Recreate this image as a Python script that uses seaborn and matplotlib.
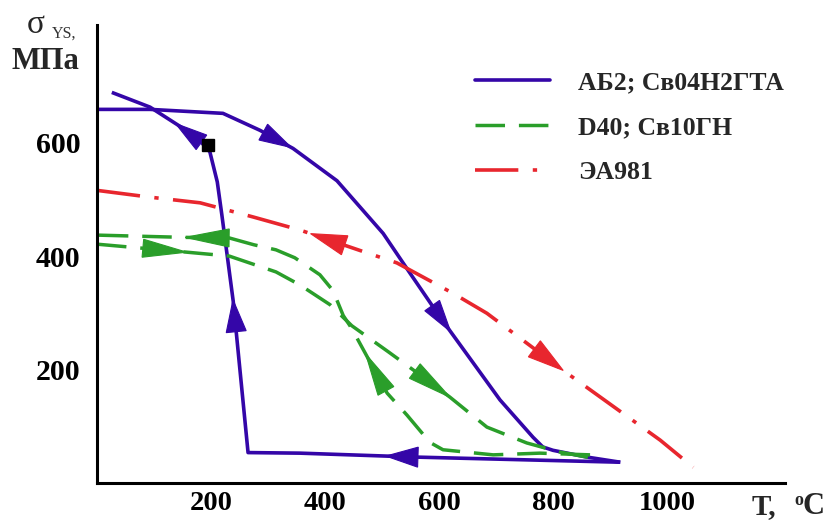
import numpy as np
import pandas as pd
import matplotlib
matplotlib.use("Agg")
import matplotlib.pyplot as plt
import seaborn as sns
from matplotlib.lines import Line2D
from matplotlib.patches import Polygon

# Yield strength vs temperature for three weld / steel combinations
# АБ2; Св04Н2ГТА — heating and cooling branches
ab2_heat_t = [0, 93, 221, 286, 344, 421, 502, 549, 602, 707, 765, 782, 800, 860, 918]
ab2_heat_s = [659, 659, 652, 622, 590, 533, 440, 370, 292, 146, 80, 63, 57, 45, 36]
ab2_cool_t = [918, 561, 356, 265, 239, 219, 211, 198, 175, 93, 26]
ab2_cool_s = [36, 45, 52, 53, 320, 473, 531, 584, 610, 663, 689]

# D40; Св10ГН — heating and cooling branches
d40_heat_t = [0, 56, 156, 232, 314, 356, 409, 447, 511, 567, 619, 684, 754, 812, 865]
d40_heat_s = [421, 416, 407, 400, 372, 349, 314, 277, 231, 190, 151, 98, 70, 54, 44]
d40_cool_t = [865, 777, 695, 607, 584, 544, 509, 479, 447, 432, 414, 391, 347, 314, 275, 232, 153, 0]
d40_cool_s = [49, 52, 49, 58, 71, 119, 158, 213, 272, 295, 339, 367, 397, 411, 420, 432, 433, 437]

# ЭА981 — single curve
ea_t = [0, 93, 181, 274, 356, 461, 526, 625, 684, 818, 988, 1046]
ea_s = [516, 504, 494, 469, 446, 410, 388, 334, 299, 198, 75, 27]

# Marked point on the АБ2 cooling curve
mark_t = [195]
mark_s = [596]

legend_labels = ["АБ2; Св04Н2ГТА", "D40; Св10ГН", "ЭА981"]
x_ticks = [200, 400, 600, 800, 1000]
y_ticks = [200, 400, 600]

BLUE = "#3406a8"
GREEN = "#2a9e2a"
RED = "#e8262e"
SERIF = "Liberation Serif"

sns.set_style("white")
plt.rcParams["font.family"] = [SERIF, "DejaVu Serif"]

fig = plt.figure(figsize=(8.34, 5.2), dpi=100)
ax = fig.add_axes([97 / 834, 1 - 482.6 / 520, (785 - 97) / 834, (482.6 - 25) / 520])
ax.set_xlim(0, 1207)
ax.set_ylim(0, 808)

blue_ls = "-"
green_ls = (0, (8.5, 4.0))
red_ls = (0, (12, 4, 1.2, 4))

def draw(t, s, color, ls, lw):
    df = pd.DataFrame({"T": t, "sigma": s})
    sns.lineplot(data=df, x="T", y="sigma", sort=False, estimator=None, ax=ax,
                 color=color, linestyle=ls, lw=lw, legend=False,
                 solid_capstyle="butt", dash_capstyle="butt")

draw(ab2_heat_t, ab2_heat_s, BLUE, blue_ls, 2.6)
draw(ab2_cool_t, ab2_cool_s, BLUE, blue_ls, 2.6)
draw(d40_heat_t, d40_heat_s, GREEN, green_ls, 2.5)
draw(d40_cool_t, d40_cool_s, GREEN, green_ls, 2.5)
draw(ea_t, ea_s, RED, red_ls, 2.6)

ax.plot(mark_t, mark_s, marker="s", ms=8.5, color="black", ls="none", zorder=6)

# Direction arrows placed along the curves by arc-length fraction
def arrow_along(t, s, frac, length, half_w, color, backward=False):
    pts = ax.transData.transform(np.column_stack([t, s]))
    seg = np.hypot(*np.diff(pts, axis=0).T)
    cum = np.concatenate([[0.0], np.cumsum(seg)])
    s_tip = frac * cum[-1]
    s_base = s_tip + length if backward else s_tip - length
    s_base = float(np.clip(s_base, 0, cum[-1]))
    tip = np.array([np.interp(s_tip, cum, pts[:, 0]), np.interp(s_tip, cum, pts[:, 1])])
    base = np.array([np.interp(s_base, cum, pts[:, 0]), np.interp(s_base, cum, pts[:, 1])])
    d = tip - base
    d = d / np.hypot(*d)
    n = np.array([-d[1], d[0]])
    base = tip - d * length
    tri = [tip, base + n * half_w, base - n * half_w]
    ax.add_patch(Polygon(tri, closed=True, transform=None, facecolor=color,
                         edgecolor=color, lw=0.8, zorder=5))

arrow_along(ab2_heat_t, ab2_heat_s, 0.30, 32, 9, BLUE)
arrow_along(ab2_heat_t, ab2_heat_s, 0.664, 32, 9, BLUE)
arrow_along(ab2_cool_t, ab2_cool_s, 0.296, 32, 10, BLUE)
arrow_along(ab2_cool_t, ab2_cool_s, 0.664, 32, 10, BLUE)
arrow_along(ab2_cool_t, ab2_cool_s, 0.91, 32, 9, BLUE)

arrow_along(d40_heat_t, d40_heat_s, 0.163, 44, 9, GREEN)
arrow_along(d40_heat_t, d40_heat_s, 0.719, 44, 9, GREEN)
arrow_along(d40_cool_t, d40_cool_s, 0.457, 42, 9, GREEN)
arrow_along(d40_cool_t, d40_cool_s, 0.852, 44, 9, GREEN)

arrow_along(ea_t, ea_s, 0.326, 36, 10, RED, backward=True)
arrow_along(ea_t, ea_s, 0.758, 36, 10, RED)

# Axes styling
for side in ["top", "right"]:
    ax.spines[side].set_visible(False)
for side in ["left", "bottom"]:
    ax.spines[side].set_color("black")
    ax.spines[side].set_linewidth(2.2)

ax.set_xticks(x_ticks)
ax.set_yticks(y_ticks)
ax.set_xticklabels([str(v) for v in x_ticks])
ax.set_yticklabels([str(v) for v in y_ticks])
ax.tick_params(axis="y", direction="in", length=15, width=2.0, pad=12, colors="black")
ax.tick_params(axis="x", direction="in", length=10, width=2.0, pad=6, colors="black")
for lab in ax.get_yticklabels():
    lab.set_fontfamily(SERIF)
    lab.set_fontweight("bold")
    lab.set_fontsize(21.5)
for lab in ax.get_xticklabels():
    lab.set_fontfamily(SERIF)
    lab.set_fontweight("bold")
    lab.set_fontsize(20.5)
ax.set_xlabel("")
ax.set_ylabel("")

# Axis titles
fig.text(27 / 834, 1 - 33 / 520, "σ", fontsize=24, family=SERIF, va="baseline", ha="left")
fig.text(52 / 834, 1 - 38 / 520, "YS,", fontsize=11.5, family=SERIF, color="#333333",
         va="baseline", ha="left")
fig.text(11 / 834, 1 - 69 / 520, "МПа", fontsize=22, family=SERIF, weight="bold",
         va="baseline", ha="left")
fig.text(752 / 834, 1 - 514 / 520, "T,", fontsize=21, family=SERIF, weight="bold",
         va="baseline", ha="left")
fig.text(794 / 834, 1 - 505 / 520, "o", fontsize=13, family=SERIF, weight="bold",
         va="baseline", ha="left")
fig.text(803 / 834, 1 - 514 / 520, "C", fontsize=22, family=SERIF, weight="bold",
         va="baseline", ha="left")

handles = [
    Line2D([], [], color=BLUE, lw=2.6, linestyle=blue_ls),
    Line2D([], [], color=GREEN, lw=2.5, linestyle=green_ls),
    Line2D([], [], color=RED, lw=2.6, linestyle=red_ls),
]
ax.legend(handles, legend_labels, loc="upper left",
          bbox_to_anchor=(475 / 834, 1 - 71 / 520), bbox_transform=fig.transFigure,
          frameon=False, borderpad=0, borderaxespad=0, handlelength=2.9,
          handletextpad=1.1, labelspacing=0.85,
          prop={"family": SERIF, "weight": "bold", "size": 18.5})

fig.savefig("out.png", dpi=100)
